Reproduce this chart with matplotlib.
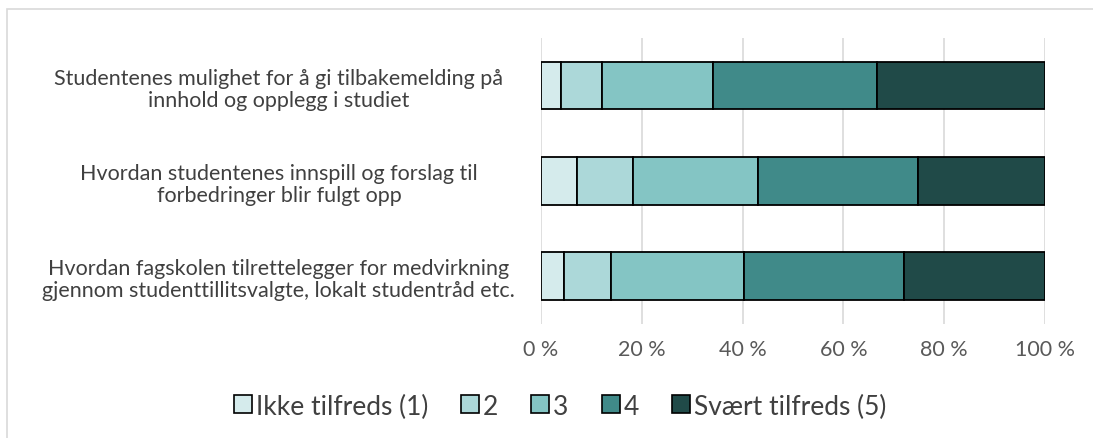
import matplotlib
matplotlib.use("Agg")
import matplotlib.pyplot as plt
from matplotlib.patches import Rectangle, Patch
import numpy as np

plt.rcParams['font.family'] = ['Lato', 'DejaVu Sans']

categories = [
    "Studentenes mulighet for å gi tilbakemelding på\ninnhold og opplegg i studiet",
    "Hvordan studentenes innspill og forslag til\nforbedringer blir fulgt opp",
    "Hvordan fagskolen tilrettelegger for medvirkning\ngjennom studenttillitsvalgte, lokalt studentråd etc.",
]
series_names = ["Ikke tilfreds (1)", "2", "3", "4", "Svært tilfreds (5)"]
s1 = [4.0, 7.1, 4.6]
s2 = [8.1, 11.2, 9.3]
s3 = [22.0, 24.7, 26.3]
s4 = [32.6, 31.8, 31.8]
s5 = [33.3, 25.2, 28.0]
series = [s1, s2, s3, s4, s5]
colors = ["#d5ebec", "#acd8d9", "#84c5c4", "#408a89", "#204a48"]
xticks = [0, 20, 40, 60, 80, 100]
xticklabels = ["0 %", "20 %", "40 %", "60 %", "80 %", "100 %"]

W, H = 1093, 439
fig = plt.figure(figsize=(W/100, H/100), dpi=100)
ax = fig.add_axes([541/W, 1-324.5/H, (1045-541)/W, (324.5-39)/H])

y = np.arange(len(categories))
left = np.zeros(len(categories))
for name, vals, c in zip(series_names, series, colors):
    ax.barh(y, vals, left=left, height=0.5, color=c, edgecolor='black',
            linewidth=1.3, label=name, zorder=3)
    left += np.array(vals)

ax.set_xlim(0, 100)
ax.set_ylim(len(categories)-0.5, -0.5)
ax.set_xticks(xticks)
ax.set_xticklabels(xticklabels, fontsize=15.5, color='#595959')
ax.set_yticks(y)
ax.set_yticklabels(categories, fontsize=15.5, color='#404040', ha='center',
                   multialignment='center', linespacing=1.15)
ax.tick_params(axis='y', length=0, pad=0)
ax.tick_params(axis='x', length=0, pad=11)
for lab in ax.get_yticklabels():
    lab.set_x(-0.52)
ax.grid(axis='x', color='#d9d9d9', linewidth=1.2, zorder=0)
for s in ax.spines.values():
    s.set_visible(False)

handles = [Patch(facecolor=c, edgecolor='black', linewidth=1.2, label=n)
           for n, c in zip(series_names, colors)]
fig.legend(handles=handles, loc='center', bbox_to_anchor=(560/W, 1-407/H),
           ncol=5, frameon=False, fontsize=19, handlelength=0.68,
           handleheight=0.68, handletextpad=0.15, columnspacing=1.25,
           labelcolor='#404040')

fig.patches.append(Rectangle((7/W, -0.1), 1.2, 1-10/H+0.1, transform=fig.transFigure,
                             fill=False, edgecolor='#d9d9d9', linewidth=1.2))
fig.savefig("out.png", dpi=100)
